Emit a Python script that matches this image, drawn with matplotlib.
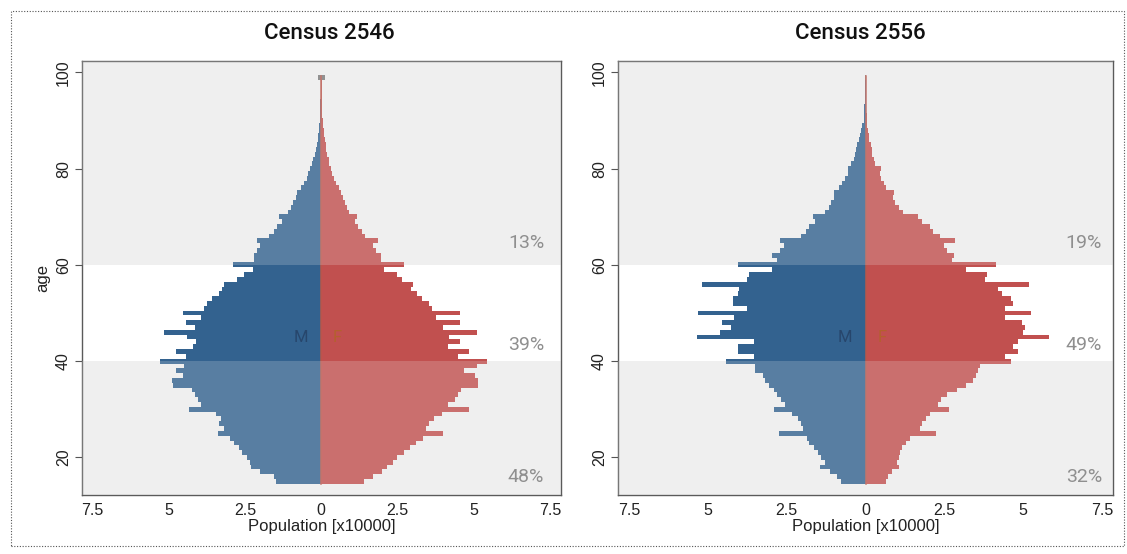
import matplotlib

matplotlib.use("Agg")
import matplotlib.pyplot as plt
import matplotlib.transforms as mtransforms
from matplotlib.patches import Rectangle

plt.rcParams["font.family"] = ["Liberation Sans", "DejaVu Sans"]

# single-year ages 15..99, population in units of 10000
AGES = list(range(15, 100))

MALE_2546 = [
    1.50, 1.55, 2.00, 2.30, 2.35, 2.45, 2.60, 2.70, 2.85, 3.00,
    3.40, 3.20, 3.35, 3.30, 3.45, 4.35, 3.95, 4.05, 4.15, 4.25,
    4.85, 4.90, 4.55, 4.75, 4.50, 5.30, 4.45, 4.75, 4.20, 4.10,
    4.40, 5.15, 4.15, 4.45, 3.95, 4.55, 3.85, 3.75, 3.60, 3.35,
    3.25, 3.20, 2.75, 2.55, 2.25, 2.90, 2.20, 2.20, 2.10, 2.00,
    2.10, 1.70, 1.55, 1.45, 1.30, 1.40, 1.10, 1.00, 0.92, 0.82,
    0.78, 0.65, 0.56, 0.48, 0.42, 0.38, 0.30, 0.26, 0.22, 0.18,
    0.15, 0.12, 0.10, 0.08, 0.06, 0.05, 0.04, 0.035, 0.03, 0.025,
    0.02, 0.02, 0.015, 0.015, 0.12,
]
FEMALE_2546 = [
    1.40, 1.70, 2.00, 2.15, 2.35, 2.50, 2.70, 2.90, 3.10, 3.35,
    4.00, 3.45, 3.55, 3.70, 3.95, 4.85, 4.15, 4.40, 4.50, 4.60,
    5.15, 5.15, 5.05, 4.70, 5.10, 5.45, 4.50, 4.85, 4.15, 4.55,
    4.20, 5.10, 4.00, 4.55, 3.75, 4.55, 3.65, 3.55, 3.30, 3.15,
    2.95, 3.00, 2.65, 2.50, 2.05, 2.70, 1.95, 1.95, 1.80, 1.70,
    1.87, 1.45, 1.35, 1.20, 1.10, 1.16, 0.90, 0.85, 0.78, 0.70,
    0.65, 0.58, 0.50, 0.42, 0.36, 0.32, 0.27, 0.24, 0.20, 0.17,
    0.14, 0.12, 0.10, 0.08, 0.06, 0.05, 0.04, 0.035, 0.03, 0.025,
    0.02, 0.02, 0.015, 0.015, 0.12,
]
MALE_2556 = [
    0.78, 0.90, 1.12, 1.45, 1.30, 1.40, 1.52, 1.62, 1.78, 1.87,
    2.75, 1.97, 2.04, 2.15, 2.33, 2.90, 2.55, 2.68, 2.80, 2.90,
    3.07, 3.20, 3.25, 3.50, 3.50, 4.42, 3.55, 4.05, 4.05, 3.55,
    5.33, 4.62, 4.28, 4.56, 4.16, 5.30, 3.75, 4.20, 4.20, 4.05,
    4.00, 5.20, 3.75, 3.70, 2.95, 4.05, 2.80, 2.95, 2.70, 2.60,
    2.70, 2.05, 1.90, 1.80, 1.60, 1.65, 1.30, 1.15, 1.08, 1.00,
    1.00, 0.85, 0.75, 0.65, 0.57, 0.55, 0.45, 0.38, 0.34, 0.31,
    0.27, 0.22, 0.18, 0.14, 0.10, 0.06, 0.05, 0.04, 0.035, 0.03,
    0.025, 0.02, 0.02, 0.015, 0.015,
]
FEMALE_2556 = [
    0.65, 0.72, 0.85, 1.05, 1.00, 1.05, 1.11, 1.17, 1.28, 1.40,
    2.25, 1.74, 1.80, 1.92, 2.03, 2.65, 2.30, 2.40, 2.60, 2.90,
    3.20, 3.40, 3.50, 3.58, 3.64, 4.60, 4.44, 4.84, 4.67, 4.84,
    5.81, 5.00, 5.07, 4.95, 4.44, 5.24, 4.44, 4.67, 4.60, 4.32,
    4.20, 5.18, 3.80, 3.86, 3.20, 4.15, 2.75, 2.80, 2.60, 2.50,
    2.85, 2.35, 2.15, 2.05, 1.80, 1.65, 1.20, 1.05, 0.95, 0.88,
    0.90, 0.65, 0.60, 0.50, 0.45, 0.48, 0.30, 0.27, 0.22, 0.20,
    0.17, 0.12, 0.10, 0.08, 0.06, 0.04, 0.035, 0.03, 0.025, 0.02,
    0.02, 0.015, 0.015, 0.01, 0.01,
]

TITLES = ["Census 2546", "Census 2556"]
# share of population in the age bands <40, 40-59, 60+
SHARES_2546 = ["48%", "39%", "13%"]
SHARES_2556 = ["32%", "49%", "19%"]

XTICKS = [-7.5, -5, -2.5, 0, 2.5, 5, 7.5]
XTICK_LABELS = ["7.5", "5", "2.5", "0", "2.5", "5", "7.5"]
YTICKS = [20, 40, 60, 80, 100]

MALE_C = "#33628f"
FEMALE_C = "#c1504f"
BAND_GRAY = "#efefef"
XLIM = (-7.85, 7.85)
YLIM = (12.25, 102.4)

W, H = 1127, 554
fig = plt.figure(figsize=(W / 100, H / 100), dpi=100)

# axes boxes in pixels: left, right, top, bottom
boxes = [(82, 560.5, 60.8, 494.7), (618, 1113, 60.8, 494.7)]
title_x = [329, 860]
share_x = [0.966, 0.978]

panels = [
    (MALE_2546, FEMALE_2546, SHARES_2546),
    (MALE_2556, FEMALE_2556, SHARES_2556),
]

for i, (male, female, shares) in enumerate(panels):
    l, r, t, b = boxes[i]
    ax = fig.add_axes([l / W, (H - b) / H, (r - l) / W, (b - t) / H])
    ax.set_facecolor(BAND_GRAY)
    ax.axhspan(40, 60, color="white", lw=0, zorder=0.5)

    mcol = [MALE_C if a < 99 else "#7a7a7a" for a in AGES]
    fcol = [FEMALE_C if a < 99 else "#7a7a7a" for a in AGES]
    ax.barh(AGES, [-v for v in male], height=1.0, color=mcol, lw=0, zorder=2)
    ax.barh(AGES, female, height=1.0, color=fcol, lw=0, zorder=2)
    ax.plot([0, 0], [AGES[0] - 0.5, AGES[-1] + 0.3], color="#b9574a",
            lw=1.1, zorder=2.5)

    # the grey bands wash out the bars a little, as in the original
    ax.axhspan(YLIM[0], 40, color=BAND_GRAY, alpha=0.2, lw=0, zorder=3)
    ax.axhspan(60, YLIM[1], color=BAND_GRAY, alpha=0.2, lw=0, zorder=3)

    ax.set_xlim(*XLIM)
    ax.set_ylim(*YLIM)
    ax.set_xticks(XTICKS)
    ax.set_xticklabels(XTICK_LABELS)
    ax.set_yticks(YTICKS)
    ax.set_yticklabels([str(v) for v in YTICKS], rotation=90, va="center")
    ax.tick_params(axis="x", length=0, pad=6, labelsize=11.5,
                   labelcolor="#222222")
    ax.tick_params(axis="y", length=5, width=0.8, color="#555555", pad=3,
                   labelsize=11.5, labelcolor="#222222")
    for sp in ax.spines.values():
        sp.set_color("#5a5a5a")
        sp.set_linewidth(1.0)

    ax.set_xlabel("Population [x10000]", fontsize=12, labelpad=1,
                  color="#222222")
    if i == 0:
        ax.set_ylabel("age", fontsize=12, labelpad=4, color="#222222")

    trans = mtransforms.blended_transform_factory(ax.transAxes, ax.transData)
    for s, y in zip(shares, [16, 43.4, 64.6]):
        ax.text(share_x[i], y, s, transform=trans, ha="right", va="center",
                fontsize=14, color="#8f8f8f", family="Roboto", zorder=5)

    ax.text(-0.66, 45, "M", ha="center", va="center", fontsize=12,
            color="#27466c", family="Roboto", zorder=5)
    ax.text(0.52, 45, "F", ha="center", va="center", fontsize=12,
            color="#b4602e", family="Roboto", zorder=5)

    fig.text(title_x[i] / W, 1 - 33.5 / H, TITLES[i], ha="center",
             va="center", fontsize=16, family="Roboto", fontweight="medium",
             color="#111111")

# dotted outline of the graph region
fig.add_artist(Rectangle((11 / W, 1 - 546 / H), (1124 - 11) / W,
                         (546 - 10.6) / H, transform=fig.transFigure,
                         fill=False, ls=(0, (1, 1.5)), lw=0.8, ec="#555555"))

fig.savefig("out.png", dpi=100)
